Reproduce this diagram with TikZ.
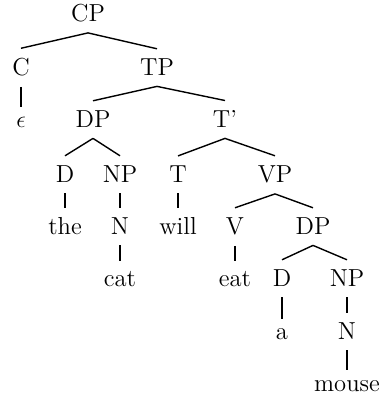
\documentclass[tikz,border=0pt]{standalone}
\usepackage{tikz}

\begin{document}
\begin{tikzpicture}[x=0.5pt,y=0.5pt]
\tikzset{
  tnode/.style={anchor=base,inner xsep=1pt,inner ysep=5pt,font=\fontsize{12.3}{14}\selectfont},
  branch/.style={line width=0.7pt}
}
\useasboundingbox (0,0) rectangle (383,400);

% CP and its daughters
\node[tnode] (cp) at (88,378) {CP};
\node[tnode] (c) at (21,324) {C};
\node[tnode] (tp) at (157,324) {TP};
\node[tnode] (eps) at (21,272) {$\epsilon$};
\draw[branch] (cp.south)--(c.north);
\draw[branch] (cp.south)--(tp.north);
\draw[branch] (c.south)--(eps.north);

% subject DP and T'
\node[tnode] (dp) at (93,272) {DP};
\node[tnode] (tbar) at (225,272) {T'};
\draw[branch] (tp.south)--(dp.north);
\draw[branch] (tp.south)--(tbar.north);

\node[tnode] (d) at (65,217) {D};
\node[tnode] (np) at (120,217) {NP};
\node[tnode] (the) at (65,165) {the};
\node[tnode] (n) at (120,165) {N};
\node[tnode] (cat) at (120,113) {cat};
\draw[branch] (dp.south)--(d.north);
\draw[branch] (dp.south)--(np.north);
\draw[branch] (d.south)--(the.north);
\draw[branch] (np.south)--(n.north);
\draw[branch] (n.south)--(cat.north);

% T and VP
\node[tnode] (t) at (178,217) {T};
\node[tnode] (vp) at (275,217) {VP};
\node[tnode] (will) at (178,165) {will};
\draw[branch] (tbar.south)--(t.north);
\draw[branch] (tbar.south)--(vp.north);
\draw[branch] (t.south)--(will.north);

\node[tnode] (v) at (235,165) {V};
\node[tnode] (dpo) at (313,165) {DP};
\node[tnode] (eat) at (235,113) {eat};
\draw[branch] (vp.south)--(v.north);
\draw[branch] (vp.south)--(dpo.north);
\draw[branch] (v.south)--(eat.north);

% object DP
\node[tnode] (do) at (282,113) {D};
\node[tnode] (npo) at (347,113) {NP};
\node[tnode] (a) at (282,60) {a};
\node[tnode] (no) at (347,60) {N};
\node[tnode] (mouse) at (347,9) {mouse};
\draw[branch] (dpo.south)--(do.north);
\draw[branch] (dpo.south)--(npo.north);
\draw[branch] (do.south)--(a.north);
\draw[branch] (npo.south)--(no.north);
\draw[branch] (no.south)--(mouse.north);
\end{tikzpicture}
\end{document}
